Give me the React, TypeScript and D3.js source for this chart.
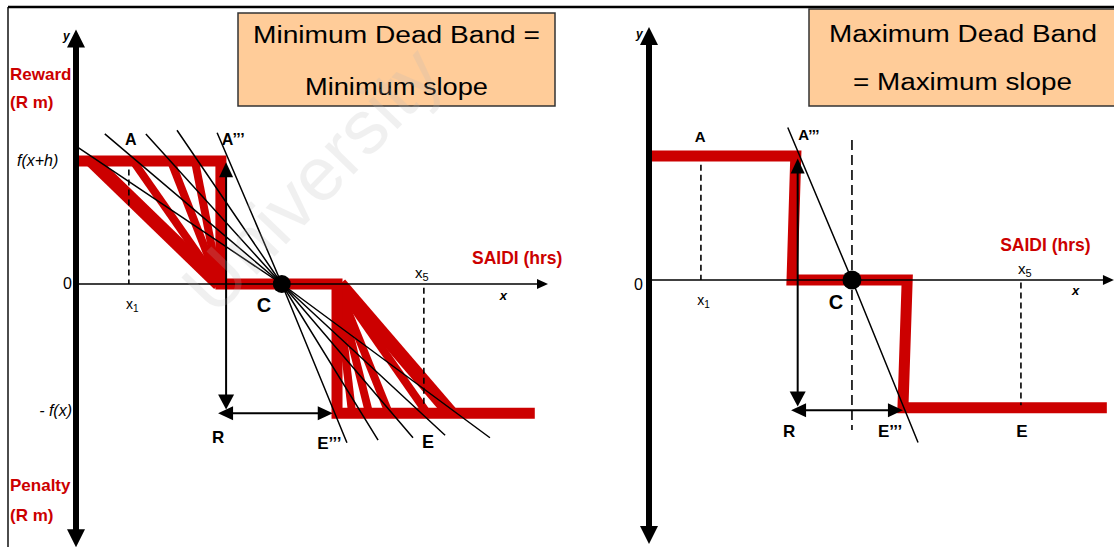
import React from 'react';
import * as d3 from 'd3';

const W = 1114;
const H = 547;

// ---------- Left panel: Minimum dead band ----------
const leftFxh = 1;            // f(x+h)
const leftFx = -1.05;         // -f(x)
const leftStep: [number, number][] = [
  [0, 1], [3.07, 1], [3.07, 0], [5.53, 0], [5.53, -1.05], [9.72, -1.05],
];
const leftUpperFanStarts = [1.21, 2.01, 2.52];
const leftUpperOuterStart = 0.34;
const leftUpperFanEnd = 3.03;
const leftLowerFanStart = 5.53;
const leftLowerFanEnds = [5.85, 6.21, 6.63, 7.44];
const leftLowerOuter: [number, number] = [5.59, 7.94];
const leftC: [number, number] = [4.36, 0];
const leftTangentStarts: [number, number][] = [[0.04, 1.11], [0.61, 1.22], [1.48, 1.22], [2.14, 1.25], [2.99, 1.23]];
const leftTangentEnds: [number, number][] = [[8.77, -1.25], [7.82, -1.23], [7.14, -1.25], [6.40, -1.27], [5.74, -1.29]];
const leftX1 = 1.12;
const leftX5 = 7.37;
const leftVArrow = { x: 3.18, y0: 0.99, y1: -1.02 };
const leftHArrow = { y: -1.05, x0: 3.01, x1: 5.44 };
const leftLabels = [
  { t: 'A', x: 1.04, y: 1.13, s: 16 },
  { t: 'A\u2019\u2019\u2019', x: 3.09, y: 1.13, s: 16 },
  { t: 'C', x: 3.83, y: -0.23, s: 20 },
  { t: 'R', x: 2.88, y: -1.29, s: 17 },
  { t: 'E\u2019\u2019\u2019', x: 5.11, y: -1.34, s: 17 },
  { t: 'E', x: 7.33, y: -1.33, s: 18 },
];

// ---------- Right panel: Maximum dead band ----------
const rightStep: [number, number][] = [
  [0, 1], [3.11, 1], [3.03, 0], [5.47, 0], [5.38, -1.03], [9.70, -1.03],
];
const rightC: [number, number] = [4.30, 0];
const rightTangent: [number, number][] = [[2.94, 1.23], [5.70, -1.31]];
const rightX1 = 1.10;
const rightX5 = 7.88;
const rightCenterDash = { x: 4.30, y0: 1.13, y1: -1.21 };
const rightVArrow = { x: 3.15, y0: 0.98, y1: -1.02 };
const rightHArrow = { y: -1.05, x0: 3.01, x1: 5.38 };
const rightLabels = [
  { t: 'A', x: 0.97, y: 1.11, s: 15 },
  { t: 'A\u2019\u2019\u2019', x: 3.16, y: 1.13, s: 15 },
  { t: 'C', x: 3.81, y: -0.23, s: 20 },
  { t: 'R', x: 2.84, y: -1.27, s: 17 },
  { t: 'E\u2019\u2019\u2019', x: 4.85, y: -1.27, s: 17 },
  { t: 'E', x: 7.78, y: -1.27, s: 17 },
];

const RED = '#CC0000';
const FONT = '"Liberation Sans", Arial, sans-serif';

function head(tx: number, ty: number, ux: number, uy: number, len: number, hw: number) {
  const bx = tx - ux * len, by = ty - uy * len;
  const px = -uy, py = ux;
  return `${tx},${ty} ${bx + px * hw},${by + py * hw} ${bx - px * hw},${by - py * hw}`;
}

type Sc = d3.ScaleLinear<number, number>;

function Panel(props: {
  x: Sc; y: Sc; yTop: number; yBot: number; xEnd: number;
}) {
  const { x, y, yTop, yBot, xEnd } = props;
  const ax = x(0);
  const top = y(yTop), bot = y(yBot), y0 = y(0), xe = x(xEnd);
  return (
    <g>
      <line x1={ax} x2={ax} y1={top + 16} y2={bot - 16} stroke="#000" strokeWidth={6} />
      <polygon points={head(ax, top, 0, -1, 18, 9)} fill="#000" />
      <polygon points={head(ax, bot, 0, 1, 18, 9)} fill="#000" />
      <line x1={ax} x2={xe - 8} y1={y0} y2={y0} stroke="#000" strokeWidth={1.6} />
      <polygon points={head(xe, y0, 1, 0, 11, 5)} fill="#000" />
      <text x={ax - 13} y={top + 11} fontFamily={FONT} fontSize={12} fontWeight="bold" fontStyle="italic">y</text>
    </g>
  );
}

export default function App() {
  const xL = d3.scaleLinear().domain([0, 10]).range([76, 548]);
  const yL = d3.scaleLinear().domain([0, 1]).range([284, 161]);
  const xR = d3.scaleLinear().domain([0, 10]).range([649, 1121]);
  const yR = d3.scaleLinear().domain([0, 1]).range([280, 156]);

  const lineL = d3.line<[number, number]>().x(d => xL(d[0])).y(d => yL(d[1]));
  const lineR = d3.line<[number, number]>().x(d => xR(d[0])).y(d => yR(d[1]));

  const dashed = (x: Sc, y: Sc, xv: number, ya: number, yb: number, dash: string, key: string) => (
    <line key={key} x1={x(xv)} x2={x(xv)} y1={y(ya)} y2={y(yb)} stroke="#000" strokeWidth={1.6} strokeDasharray={dash} />
  );

  const vArrow = (x: Sc, y: Sc, a: { x: number; y0: number; y1: number }) => {
    const xx = x(a.x), ya = y(a.y0), yb = y(a.y1);
    return (
      <g>
        <line x1={xx} x2={xx} y1={ya + 12} y2={yb - 12} stroke="#000" strokeWidth={2} />
        <polygon points={head(xx, ya, 0, -1, 15, 7)} fill="#000" />
        <polygon points={head(xx, yb, 0, 1, 15, 8)} fill="#000" />
      </g>
    );
  };
  const hArrow = (x: Sc, y: Sc, a: { y: number; x0: number; x1: number }) => {
    const yy = y(a.y), xa = x(a.x0), xb = x(a.x1);
    return (
      <g>
        <line x1={xa + 12} x2={xb - 12} y1={yy} y2={yy} stroke="#000" strokeWidth={2} />
        <polygon points={head(xa, yy, -1, 0, 15, 7)} fill="#000" />
        <polygon points={head(xb, yy, 1, 0, 15, 7)} fill="#000" />
      </g>
    );
  };

  return (
    <svg width={W} height={H} style={{ position: 'absolute', left: 0, top: 0, background: '#fff' }}
      fontFamily={FONT}>
      <rect x={0} y={0} width={W} height={H} fill="#fff" />

      {/* frame */}
      <line x1={8} x2={W} y1={7} y2={7} stroke="#000" strokeWidth={2.4} />
      <line x1={8} x2={8} y1={7} y2={H} stroke="#000" strokeWidth={1.4} />

      {/* title boxes */}
      <rect x={238} y={13} width={317} height={93} fill="#FFCC99" stroke="#333" strokeWidth={1.5} />
      <text x={253} y={43} fontSize={23} textLength={287} lengthAdjust="spacingAndGlyphs">Minimum Dead Band =</text>
      <text x={305} y={95} fontSize={23} textLength={183} lengthAdjust="spacingAndGlyphs">Minimum slope</text>
      <rect x={809} y={9} width={310} height={97} fill="#FFCC99" stroke="#333" strokeWidth={1.5} />
      <text x={829} y={42} fontSize={23} textLength={268} lengthAdjust="spacingAndGlyphs">Maximum Dead Band</text>
      <text x={853} y={90} fontSize={23} textLength={219} lengthAdjust="spacingAndGlyphs">= Maximum slope</text>

      {/* ================= LEFT PANEL ================= */}
      {leftUpperFanStarts.map((s, i) => (
        <path key={'uf' + i} d={lineL([[s, leftFxh], [leftUpperFanEnd, 0]])!} stroke={RED} strokeWidth={8} fill="none" />
      ))}
      <path d={lineL([[leftUpperOuterStart, leftFxh], [leftUpperFanEnd, 0]])!} stroke={RED} strokeWidth={14} fill="none" />
      {leftLowerFanEnds.map((e, i) => (
        <path key={'lf' + i} d={lineL([[leftLowerFanStart, 0], [e, leftFx]])!} stroke={RED} strokeWidth={8} fill="none" />
      ))}
      <path d={lineL([[leftLowerOuter[0], 0], [leftLowerOuter[1], leftFx]])!} stroke={RED} strokeWidth={14} fill="none" />
      <path d={lineL(leftStep)!} stroke={RED} strokeWidth={11} fill="none" strokeLinejoin="miter" />

      <Panel x={xL} y={yL} yTop={2.07} yBot={-2.14} xEnd={10} />

      {dashed(xL, yL, leftX1, 0.93, 0, '6,4', 'lx1')}
      {dashed(xL, yL, leftX5, -0.03, -1.0, '6,4', 'lx5')}

      {leftTangentStarts.map((s, i) => (
        <path key={'lt' + i} d={lineL([s, leftC, leftTangentEnds[i]])!} stroke="#000" strokeWidth={1.5} fill="none" />
      ))}

      {vArrow(xL, yL, leftVArrow)}
      {hArrow(xL, yL, leftHArrow)}

      <circle cx={xL(leftC[0])} cy={yL(leftC[1])} r={9} fill="#000" />

      {leftLabels.map((l, i) => (
        <text key={'ll' + i} x={xL(l.x)} y={yL(l.y)} fontSize={l.s} fontWeight="bold">{l.t}</text>
      ))}
      <text x={xL(1.06)} y={yL(-0.2)} fontSize={14}>x<tspan fontSize={10} dy={3}>1</tspan></text>
      <text x={xL(7.18)} y={yL(0.05)} fontSize={15}>x<tspan fontSize={11} dy={3}>5</tspan></text>
      <text x={xL(8.98)} y={yL(-0.13)} fontSize={13} fontWeight="bold" fontStyle="italic">x</text>
      <text x={xL(8.39)} y={yL(0.16)} fontSize={17.5} fontWeight="bold" fill={RED}>SAIDI (hrs)</text>

      <text x={72} y={yL(0) + 5} fontSize={16} textAnchor="end">0</text>
      <text x={17} y={yL(leftFxh) + 5} fontSize={16} fontStyle="italic">f(x+h)</text>
      <text x={72} y={yL(leftFx) + 3} fontSize={16} fontStyle="italic" textAnchor="end">- f(x)</text>
      <text x={10} y={80} fontSize={17} fontWeight="bold" fill={RED}>Reward</text>
      <text x={10} y={108} fontSize={17} fontWeight="bold" fill={RED}>(R m)</text>
      <text x={10} y={491} fontSize={17} fontWeight="bold" fill={RED}>Penalty</text>
      <text x={10} y={521} fontSize={17} fontWeight="bold" fill={RED}>(R m)</text>

      {/* ================= RIGHT PANEL ================= */}
      <path d={lineR(rightStep)!} stroke={RED} strokeWidth={11} fill="none" strokeLinejoin="miter" />
      <Panel x={xR} y={yR} yTop={2.04} yBot={-2.13} xEnd={9.85} />

      {dashed(xR, yR, rightX1, 0.93, 0, '6,4', 'rx1')}
      {dashed(xR, yR, rightX5, -0.02, -1.01, '6,4', 'rx5')}
      {dashed(xR, yR, rightCenterDash.x, rightCenterDash.y0, rightCenterDash.y1, '10,5', 'rc')}

      <path d={lineR([rightTangent[0], rightC, rightTangent[1]])!} stroke="#000" strokeWidth={1.5} fill="none" />

      {vArrow(xR, yR, rightVArrow)}
      {hArrow(xR, yR, rightHArrow)}

      <circle cx={xR(rightC[0])} cy={yR(rightC[1])} r={9.5} fill="#000" />

      {rightLabels.map((l, i) => (
        <text key={'rl' + i} x={xR(l.x)} y={yR(l.y)} fontSize={l.s} fontWeight="bold">{l.t}</text>
      ))}
      <text x={xR(1.02)} y={yR(-0.2)} fontSize={14}>x<tspan fontSize={10} dy={3}>1</tspan></text>
      <text x={xR(7.82)} y={yR(0.05)} fontSize={15}>x<tspan fontSize={11} dy={3}>5</tspan></text>
      <text x={xR(8.96)} y={yR(-0.12)} fontSize={13} fontWeight="bold" fontStyle="italic">x</text>
      <text x={xR(7.44)} y={yR(0.23)} fontSize={17.5} fontWeight="bold" fill={RED}>SAIDI (hrs)</text>
      <text x={643} y={yR(0) + 10} fontSize={16} textAnchor="end">0</text>

      {/* watermark */}
      <text x={0} y={0} fontSize={76} fill="#b8b8b8" opacity={0.2}
        transform="translate(215,318) rotate(-46)">University</text>
    </svg>
  );
}
